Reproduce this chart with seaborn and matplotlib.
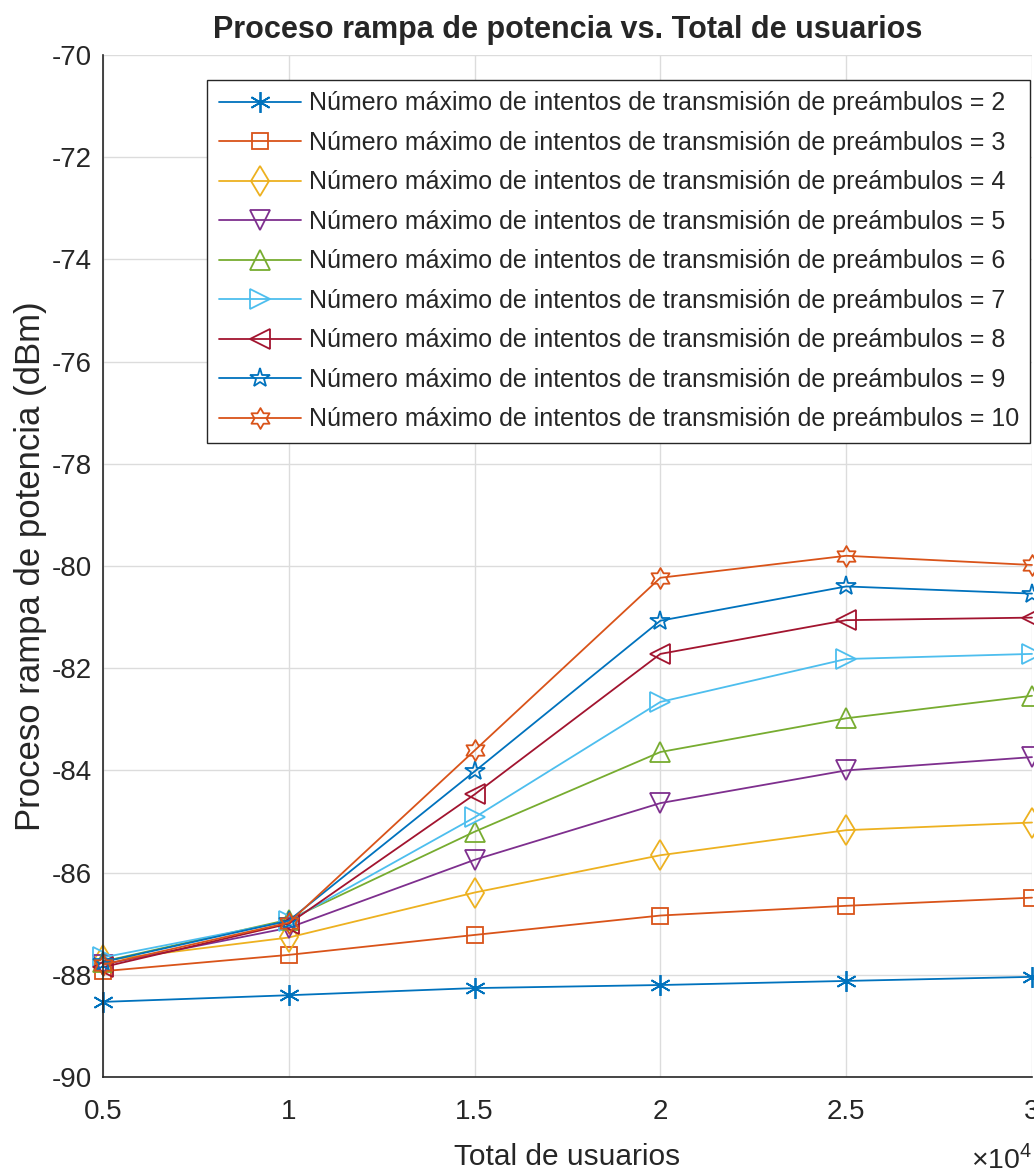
import numpy as np
import pandas as pd
import matplotlib
matplotlib.use("Agg")
import matplotlib.pyplot as plt
import seaborn as sns
from matplotlib.path import Path
from matplotlib.ticker import FuncFormatter, MultipleLocator

# data
usuarios = [5000, 10000, 15000, 20000, 25000, 30000]
intentos = [2, 3, 4, 5, 6, 7, 8, 9, 10]

potencia_2 = [-88.53, -88.40, -88.26, -88.20, -88.12, -88.04]
potencia_3 = [-87.93, -87.61, -87.22, -86.84, -86.65, -86.49]
potencia_4 = [-87.72, -87.27, -86.39, -85.66, -85.17, -85.02]
potencia_5 = [-87.80, -87.08, -85.75, -84.64, -84.00, -83.74]
potencia_6 = [-87.74, -86.92, -85.20, -83.64, -82.98, -82.54]
potencia_7 = [-87.66, -86.95, -84.92, -82.66, -81.82, -81.72]
potencia_8 = [-87.85, -87.00, -84.47, -81.72, -81.06, -81.01]
potencia_9 = [-87.75, -86.94, -84.02, -81.07, -80.40, -80.54]
potencia_10 = [-87.80, -86.98, -83.61, -80.23, -79.80, -79.98]

series = [potencia_2, potencia_3, potencia_4, potencia_5, potencia_6,
          potencia_7, potencia_8, potencia_9, potencia_10]

colores = ['#0072BD', '#D95319', '#EDB120', '#7E2F8E', '#77AC30',
           '#4DBEEE', '#A2142F', '#0072BD', '#D95319']
hexagrama = Path(Path.unit_regular_star(6, 0.577).vertices, closed=True)
marcadores = [(6, 2, 0), 's', 'd', 'v', '^', '>', '<', '*', hexagrama]
tamanos = [15, 11, 15, 14, 14, 14, 14, 15, 15]

sns.set_theme(style="white")
plt.rcParams['font.family'] = ['Liberation Sans', 'DejaVu Sans']
plt.rcParams['axes.unicode_minus'] = False
plt.rcParams['mathtext.fontset'] = 'custom'
plt.rcParams['mathtext.rm'] = 'Liberation Sans'

fig = plt.figure(figsize=(10.34, 11.76), dpi=100)
ax = fig.add_axes([103 / 1034, 1 - 1077 / 1176, 929 / 1034, 1022 / 1176])

for n, vals, c, m, ms in zip(intentos, series, colores, marcadores, tamanos):
    df = pd.DataFrame({'usuarios': usuarios, 'potencia': vals})
    sns.lineplot(data=df, x='usuarios', y='potencia', ax=ax, color=c,
                 marker=m, markersize=ms, markerfacecolor='none',
                 markeredgecolor=c, markeredgewidth=1.3, linewidth=1.3,
                 clip_on=False,
                 label=f'Número máximo de intentos de transmisión de preámbulos = {n}')

ax.set_xlim(5000, 30000)
ax.set_ylim(-90, -70)
ax.xaxis.set_major_locator(MultipleLocator(5000))
ax.yaxis.set_major_locator(MultipleLocator(2))
ax.xaxis.set_major_formatter(FuncFormatter(lambda v, _: f'{v / 1e4:g}'))
ax.yaxis.set_major_formatter(FuncFormatter(lambda v, _: f'{v:g}'))

ax.grid(True, color='#dcdcdc', linewidth=1.0)
ax.set_axisbelow(True)
for s in ['top', 'right']:
    ax.spines[s].set_visible(False)
for s in ['left', 'bottom']:
    ax.spines[s].set_color('#262626')
    ax.spines[s].set_linewidth(1.2)
ax.tick_params(direction='in', length=7, width=1.2, color='#262626',
               labelsize=20, labelcolor='#262626')
ax.tick_params(axis='x', pad=16)
ax.tick_params(axis='y', pad=8)

ax.set_xlabel('Total de usuarios', fontsize=21.5, color='#262626', labelpad=13)
ax.set_ylabel('Proceso rampa de potencia (dBm)', fontsize=25, color='#262626', labelpad=3)
ax.set_title('Proceso rampa de potencia vs. Total de usuarios', fontsize=22,
             fontweight='bold', pad=12)
ax.text(1.0, -0.066, r'$\times10^{4}$', transform=ax.transAxes, ha='right',
        va='top', fontsize=20.5, color='#262626')

leg = ax.legend(loc='upper right', bbox_to_anchor=(0.998, 0.9755), borderaxespad=0,
                fontsize=18, handlelength=3.3, handletextpad=0.3,
                labelspacing=0.62, frameon=True, fancybox=False, framealpha=1,
                borderpad=0.45)
leg.get_frame().set_edgecolor('#262626')
leg.get_frame().set_linewidth(1.0)

fig.savefig('out.png', dpi=100)
